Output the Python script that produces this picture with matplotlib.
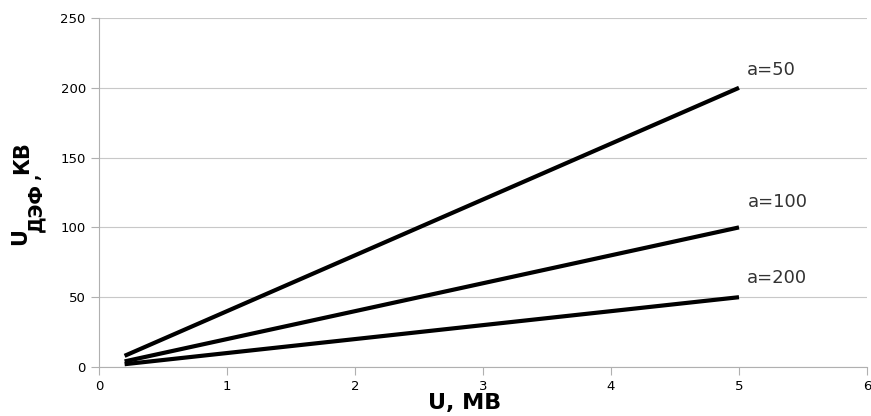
import numpy as np
import matplotlib
matplotlib.use('Agg')
import matplotlib.pyplot as plt

# Данные: U, МВ -> U_ДЭФ, кВ для разных a
u_mv = [0.2, 5.0]
series_labels = ['a=50', 'a=100', 'a=200']
series_values = [
    [8, 200],
    [4, 100],
    [2, 50],
]
label_pos = [(5.25, 213), (5.30, 118), (5.30, 64)]

W, H = 871, 416
fig = plt.figure(figsize=(W / 100, H / 100), dpi=100)
ax = fig.add_axes([99 / W, 1 - 367 / H, 768 / W, 349 / H])

for vals, lab, pos in zip(series_values, series_labels, label_pos):
    ax.plot(u_mv, vals, color='black', linewidth=3, solid_capstyle='butt')
    ax.text(pos[0], pos[1], lab, fontsize=13, color='#333333', ha='center', va='center')

ax.set_xlim(0, 6)
ax.set_ylim(0, 250)
ax.set_xticks(np.arange(0, 7, 1))
ax.set_yticks(np.arange(0, 251, 50))
ax.yaxis.grid(True, color='#c8c8c8', linewidth=0.8)
ax.set_axisbelow(True)

for s in ['top', 'right']:
    ax.spines[s].set_visible(False)
for s in ['left', 'bottom']:
    ax.spines[s].set_color('#b0b0b0')
ax.tick_params(axis='both', colors='#b0b0b0', labelcolor='black', labelsize=9.5, length=6)

# подписи осей
fig.text(465 / W, 1 - 403 / H, 'U, МВ', fontsize=16, fontweight='bold', ha='center', va='center')
fig.text(20 / W, 1 - 237 / H, 'U', fontsize=15, fontweight='bold', rotation=90, ha='center', va='center')
fig.text(36 / W, 1 - 208 / H, 'ДЭФ', fontsize=13.5, fontweight='bold', rotation=90, ha='center', va='center')
fig.text(22 / W, 1 - 158 / H, 'КВ', fontsize=15, fontweight='bold', rotation=90, ha='center', va='center')
fig.text(33 / W, 1 - 177 / H, ',', fontsize=12, fontweight='bold', rotation=90, ha='center', va='center')

fig.savefig('out.png', dpi=100)
